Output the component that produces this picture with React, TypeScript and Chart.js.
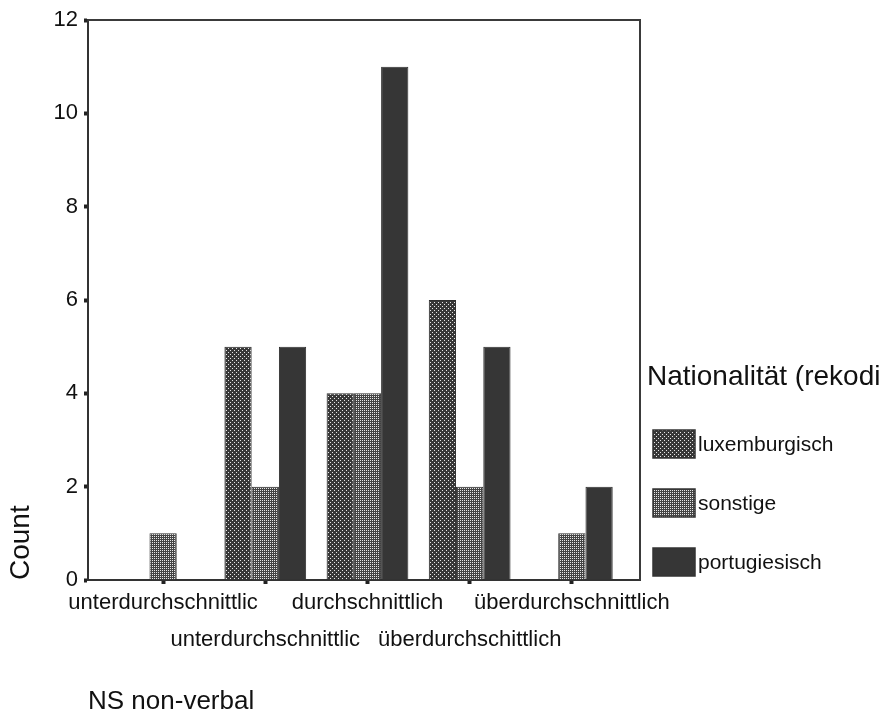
import React, { useEffect, useRef } from 'react';
import { Chart, registerables } from 'chart.js';

Chart.register(...registerables);

// ---- data ----
const categoryLabels = [
  'unterdurchschnittlic',
  'unterdurchschnittlic',
  'durchschnittlich',
  'überdurchschittlich',
  'überdurchschnittlich',
];
const seriesNames = ['luxemburgisch', 'sonstige', 'portugiesisch'];
const luxemburgisch = [0, 5, 4, 6, 0];
const sonstige = [1, 2, 4, 2, 1];
const portugiesisch = [0, 5, 11, 5, 2];
const yTickValues = [0, 2, 4, 6, 8, 10, 12];
const legendTitle = 'Nationalität (rekodi';
const xTitle = 'NS non-verbal';
const yTitle = 'Count';

const FONT = "'Liberation Sans', Arial, Helvetica, sans-serif";
const TEXT = '#111111';

function makePattern(base: string, dots: [number, number][], size: number, dot = '#e8e8e8') {
  const c = document.createElement('canvas');
  c.width = size;
  c.height = size;
  const g = c.getContext('2d')!;
  g.fillStyle = base;
  g.fillRect(0, 0, size, size);
  g.fillStyle = dot;
  dots.forEach(([x, y]) => g.fillRect(x, y, 1, 1));
  const ctx = document.createElement('canvas').getContext('2d')!;
  return ctx.createPattern(c, 'repeat')!;
}

export default function App() {
  const ref = useRef<HTMLCanvasElement>(null);

  useEffect(() => {
    if (!ref.current) return;
    const luxFill = makePattern('#383838', [[0, 0], [2, 2]], 4);
    const sonFill = makePattern('#444444', [[0, 0]], 2);
    const porFill = '#363636';
    const fills = [luxFill, sonFill, porFill];
    const values = [luxemburgisch, sonstige, portugiesisch];

    const framePlugin = {
      id: 'frameAndLegend',
      afterDraw(chart: any) {
        const { ctx, chartArea } = chart;
        ctx.save();
        ctx.strokeStyle = '#3a3a3a';
        ctx.lineWidth = 2;
        ctx.beginPath();
        ctx.moveTo(chartArea.left, chartArea.top);
        ctx.lineTo(chartArea.right, chartArea.top);
        ctx.lineTo(chartArea.right, chartArea.bottom);
        ctx.stroke();

        // legend
        const lx = chartArea.right + 13;
        ctx.fillStyle = TEXT;
        ctx.textBaseline = 'middle';
        ctx.textAlign = 'left';
        ctx.font = `28px ${FONT}`;
        ctx.fillText(legendTitle, chartArea.right + 7, 377);
        ctx.font = `21px ${FONT}`;
        chart.data.datasets.forEach((ds: any, i: number) => {
          const cy = 444 + i * 59;
          ctx.fillStyle = ds.backgroundColor;
          ctx.fillRect(lx, cy - 14, 42, 28);
          ctx.strokeStyle = '#333';
          ctx.lineWidth = 1.5;
          ctx.strokeRect(lx, cy - 14, 42, 28);
          ctx.fillStyle = TEXT;
          ctx.fillText(ds.label, lx + 45, cy + 1);
        });
        ctx.restore();
      },
    };

    const chart = new Chart(ref.current, {
      type: 'bar',
      data: {
        datasets: seriesNames.map((name, si) => ({
          label: name,
          data: values[si].map((v, i) => ({ x: i, y: v })),
          backgroundColor: fills[si] as any,
          borderColor: '#2e2e2e',
          borderWidth: 1,
          categoryPercentage: 0.8,
          barPercentage: 1,
        })),
      },
      options: {
        animation: false,
        responsive: true,
        maintainAspectRatio: false,
        layout: { padding: { top: 20, right: 248, left: 0, bottom: 0 } },
        plugins: {
          legend: { display: false },
          tooltip: { enabled: false },
        },
        scales: {
          x: {
            type: 'linear',
            min: -0.735,
            max: 4.667,
            offset: false,
            grid: {
              offset: false,
              drawOnChartArea: false,
              drawTicks: true,
              tickLength: 4,
              tickWidth: 4,
              tickColor: '#222',
            },
            border: { display: true, color: '#333', width: 2 },
            afterBuildTicks: (s: any) => {
              s.ticks = categoryLabels.map((_, i) => ({ value: i }));
            },
            afterFit: (s: any) => {
              s.height = 137;
            },
            ticks: {
              autoSkip: false,
              maxRotation: 0,
              minRotation: 0,
              padding: 0,
              color: TEXT,
              font: { family: FONT, size: 22, lineHeight: 1.68 },
              callback: (v: any) => {
                const i = Math.round(Number(v));
                const lab = categoryLabels[i] ?? '';
                return i % 2 === 0 ? [lab] : ['', lab];
              },
            },
            title: {
              display: true,
              text: xTitle,
              align: 'start',
              color: TEXT,
              font: { family: FONT, size: 26 },
              padding: { top: 0, bottom: 0 },
            },
          },
          y: {
            min: 0,
            max: 12,
            afterBuildTicks: (s: any) => {
              s.ticks = yTickValues.map((v) => ({ value: v }));
            },
            afterFit: (s: any) => {
              s.width = 88;
            },
            grid: {
              drawOnChartArea: false,
              drawTicks: true,
              tickLength: 4,
              tickWidth: 4,
              tickColor: '#222',
            },
            border: { display: true, color: '#333', width: 2 },
            ticks: {
              padding: 6,
              color: TEXT,
              font: { family: FONT, size: 22 },
            },
            title: {
              display: true,
              text: yTitle,
              align: 'start',
              color: TEXT,
              font: { family: FONT, size: 28 },
              padding: { top: 4, bottom: 0 },
            },
          },
        },
      } as any,
      plugins: [framePlugin],
    });
    return () => chart.destroy();
  }, []);

  return (
    <div style={{ position: 'fixed', left: 0, top: 0, width: 888, height: 717, background: '#fff' }}>
      <canvas ref={ref} />
    </div>
  );
}
